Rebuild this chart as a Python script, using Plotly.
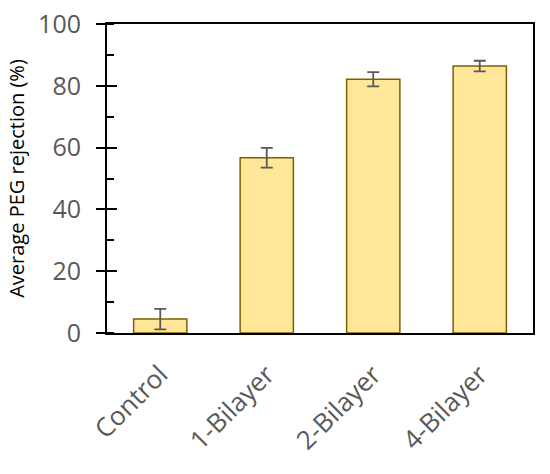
import plotly.graph_objects as go

categories = ["Control", "1-Bilayer", "2-Bilayer", "4-Bilayer"]
rejection = [4.5, 56.7, 82.1, 86.4]
errors = [3.3, 3.2, 2.3, 1.7]
y_ticks = [0, 20, 40, 60, 80, 100]

fig = go.Figure()
fig.add_trace(go.Bar(
    x=categories, y=rejection,
    marker=dict(color="#FFE699", line=dict(color="#7F6000", width=1.5)),
    width=0.5,
    error_y=dict(type="data", array=errors, visible=True, color="#595959", thickness=1.8, width=6),
))
# invisible trace on overlay axis for inside part of major ticks
fig.add_trace(go.Scatter(x=categories, y=rejection, yaxis="y2", mode="markers",
                         marker=dict(opacity=0), hoverinfo="skip", showlegend=False))

font_fam = "Open Sans, Lato, sans-serif"
fig.update_layout(
    width=550, height=474,
    margin=dict(l=107, r=17, t=24, b=141),
    plot_bgcolor="white", paper_bgcolor="white",
    showlegend=False,
    font=dict(family=font_fam),
    xaxis=dict(
        automargin=False,
        showline=True, linecolor="black", linewidth=2, mirror=True,
        ticks="", tickangle=-45, ticklabelstandoff=14,
        tickfont=dict(size=26, color="#595959", family=font_fam),
    ),
    yaxis=dict(
        automargin=False,
        range=[0, 100], tickvals=y_ticks, showgrid=False, zeroline=False,
        showline=True, linecolor="black", linewidth=2, mirror=True,
        ticks="outside", ticklen=9, tickwidth=2, tickcolor="black",
        ticklabelstandoff=10, ticklabeloverflow="allow",
        tickfont=dict(size=25, color="#595959", family=font_fam),
        minor=dict(ticks="inside", dtick=10, tick0=10, ticklen=7, tickwidth=2, tickcolor="black", showgrid=False),
        title=dict(text="Average PEG rejection (%)", font=dict(size=20, color="black", family=font_fam), standoff=8),
    ),
    yaxis2=dict(
        automargin=False,
        range=[0, 100], tickvals=y_ticks, overlaying="y", side="left",
        showgrid=False, zeroline=False, showticklabels=False,
        ticks="inside", ticklen=10, tickwidth=2, tickcolor="black",
    ),
)

fig.write_html("out.html", config={"displayModeBar": False},
               post_script="document.body.style.margin='0';")
